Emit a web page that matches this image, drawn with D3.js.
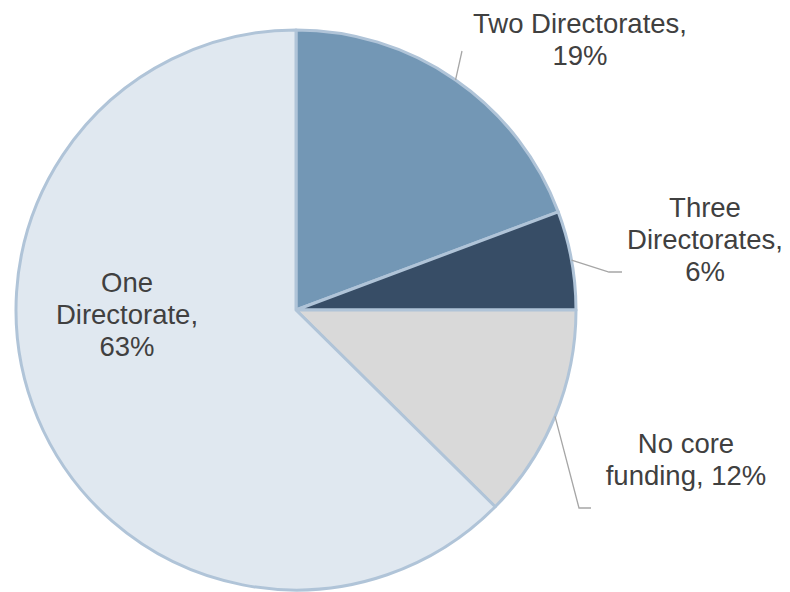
<!DOCTYPE html>
<html>
<head>
    <meta charset="utf-8">
    <style>
        body {
            margin: 0;
            background: #fff;
        }

        svg {
            display: block;
        }

        .label {
            font-family: "Liberation Sans", Arial, sans-serif;
            font-size: 27.5px;
            fill: #404040;
            text-anchor: middle;
        }

        .leader {
            fill: none;
            stroke: #a6a6a6;
            stroke-width: 1.3;
        }
    </style>
</head>

<body>
    <svg width="790" height="592"></svg>

<script src="https://d3js.org/d3.v7.min.js"></script>

<script>
    // data, clockwise from 12 o'clock
    let categories = ["Two Directorates", "Three Directorates", "No core funding", "One Directorate"]
    let shares = [19.3, 5.7, 12.4, 62.6]
    let sliceColors = ["#7397b5", "#374d66", "#d9d9d9", "#e0e8f0"]

    // label layout: centre of text block, first baseline, words per line, leader elbow/end
    let labelPos = [
        { x: 580, y: 33, words: [2, 1], leader: [[462, 51]] },
        { x: 705, y: 217, words: [1, 1, 1], leader: [[609, 272], [622, 272]] },
        { x: 686, y: 453, words: [2, 2], leader: [[579, 508], [591, 508]] },
        { x: 127, y: 292, words: [1, 1, 1], leader: null }
    ]

    let width = 790
    let height = 592
    let cx = 296
    let cy = 310
    let radius = 280
    let lineHeight = 32

    let svg = d3.select("svg")

    let rows = categories.map((c, i) => ({ name: c, value: shares[i], color: sliceColors[i], pos: labelPos[i] }))

    let pie = d3.pie()
        .sort(null)
        .value(d => d.value)

    let arc = d3.arc()
        .innerRadius(0)
        .outerRadius(radius)

    let arcs = pie(rows)

    let g = svg.append("g")
        .attr("transform", `translate(${cx},${cy})`)

    g.selectAll("path.slice")
        .data(arcs)
        .join("path")
        .attr("class", "slice")
        .attr("fill", d => d.data.color)
        .attr("stroke", "#b0c4d8")
        .attr("stroke-width", 3)
        .attr("stroke-linejoin", "round")
        .attr("d", arc)

    // leader lines start at the middle of each slice's outer edge
    let line = d3.line()

    svg.append("g")
        .selectAll("path")
        .data(arcs.filter(d => d.data.pos.leader))
        .join("path")
        .attr("class", "leader")
        .attr("d", d => {
            let a = (d.startAngle + d.endAngle) / 2
            let start = [cx + radius * Math.sin(a), cy - radius * Math.cos(a)]
            return line([start].concat(d.data.pos.leader))
        })

    let fmt = d3.format(".0f")

    let labels = svg.append("g")
        .selectAll("text")
        .data(arcs)
        .join("text")
        .attr("class", "label")
        .attr("x", d => d.data.pos.x)
        .attr("y", d => d.data.pos.y)

    labels.each(function (d) {
        let words = (d.data.name + ", " + fmt(d.data.value) + "%").split(" ")
        let t = d3.select(this)
        let k = 0
        d.data.pos.words.forEach((n, i) => {
            t.append("tspan")
                .attr("x", d.data.pos.x)
                .attr("y", d.data.pos.y + i * lineHeight)
                .text(words.slice(k, k + n).join(" "))
            k += n
        })
    })
</script>
</body>
</html>
